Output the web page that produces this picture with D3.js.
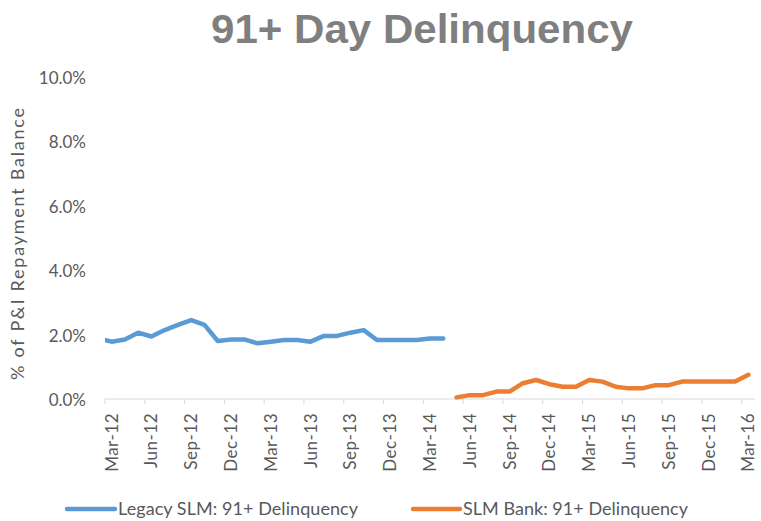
<!DOCTYPE html>
<html>
<head>
<meta charset="utf-8">
<script src="https://cdn.jsdelivr.net/npm/d3@7"></script>
<style>
  body { margin: 0; background: #fff; }
  text { font-family: Lato, "Open Sans", sans-serif; fill: #595959; }
</style>
</head>
<body>
<div id="chart"></div>
<script>
// chart data
const monthCount = 49;                     // Mar-12 .. Mar-16
const tickLabels = ["Mar-12", "Jun-12", "Sep-12", "Dec-12", "Mar-13", "Jun-13", "Sep-13", "Dec-13",
  "Mar-14", "Jun-14", "Sep-14", "Dec-14", "Mar-15", "Jun-15", "Sep-15", "Dec-15", "Mar-16"];
const yTicks = [0, 2, 4, 6, 8, 10];

// Legacy SLM, monthly from Feb-12 (first point sits left of the axis and is clipped)
const legacyStart = -1;
const legacyValues = [1.88, 1.78, 1.85, 2.06, 1.94, 2.14, 2.30, 2.45, 2.30, 1.80, 1.85, 1.85, 1.73,
  1.78, 1.83, 1.83, 1.78, 1.96, 1.96, 2.06, 2.14, 1.83, 1.83, 1.83, 1.83, 1.88, 1.88];
// SLM Bank, monthly from May-14
const bankStart = 26;
const bankValues = [0.05, 0.12, 0.12, 0.23, 0.23, 0.49, 0.59, 0.46, 0.38, 0.38, 0.59, 0.54, 0.38,
  0.33, 0.33, 0.43, 0.43, 0.54, 0.54, 0.54, 0.54, 0.54, 0.75];

const width = 761, height = 521;
const plot = { left: 105, right: 755, top: 77, bottom: 399 };

const svg = d3.select("#chart").append("svg")
  .attr("width", width)
  .attr("height", height);

const x = d3.scaleLinear().domain([0, monthCount]).range([plot.left, plot.right]);
const y = d3.scaleLinear().domain([0, 10]).range([plot.bottom, plot.top]);

// title
svg.append("text")
  .attr("x", 422)
  .attr("y", 43)
  .attr("text-anchor", "middle")
  .attr("textLength", 422)
  .attr("lengthAdjust", "spacingAndGlyphs")
  .style("font-family", "'Liberation Sans', Arial, sans-serif")
  .style("font-weight", "bold")
  .style("font-size", "40px")
  .style("fill", "#7f7f7f")
  .text("91+ Day Delinquency");

// y axis labels
svg.append("g").selectAll("text")
  .data(yTicks)
  .enter().append("text")
  .attr("x", 86)
  .attr("y", d => y(d) + 1)
  .attr("dy", "0.35em")
  .attr("text-anchor", "end")
  .style("font-size", "17px")
  .text(d => d.toFixed(1) + "%");

// y axis title
svg.append("text")
  .attr("transform", "translate(24,244) rotate(-90)")
  .attr("text-anchor", "middle")
  .attr("textLength", 272)
  .attr("lengthAdjust", "spacing")
  .style("font-size", "18px")
  .text("% of P&I Repayment Balance");

// x axis line and ticks
const xAxis = svg.append("g");
xAxis.append("line")
  .attr("x1", plot.left).attr("x2", plot.right)
  .attr("y1", plot.bottom).attr("y2", plot.bottom)
  .style("stroke", "#d9d9d9")
  .style("stroke-width", 1);

xAxis.selectAll(".tick")
  .data(tickLabels)
  .enter().append("line")
  .attr("x1", (d, i) => x(i * 3)).attr("x2", (d, i) => x(i * 3))
  .attr("y1", plot.bottom).attr("y2", plot.bottom + 5)
  .style("stroke", "#d9d9d9");

xAxis.selectAll(".lbl")
  .data(tickLabels)
  .enter().append("text")
  .attr("transform", (d, i) => `translate(${x(i * 3 + 0.5)},${plot.bottom + 14}) rotate(-90)`)
  .attr("dy", "0.35em")
  .attr("text-anchor", "end")
  .style("font-size", "17px")
  .style("letter-spacing", "0.5px")
  .text(d => d);

// clip lines to plot area
svg.append("clipPath").attr("id", "plot-clip")
  .append("rect")
  .attr("x", plot.left).attr("y", 0)
  .attr("width", plot.right - plot.left).attr("height", height);

const line = d3.line()
  .x(d => x(d.m + 0.5))
  .y(d => y(d.v));

const series = [
  { name: "Legacy SLM: 91+ Delinquency", color: "#5b9bd5",
    points: legacyValues.map((v, i) => ({ m: legacyStart + i, v })) },
  { name: "SLM Bank: 91+ Delinquency", color: "#ed7d31",
    points: bankValues.map((v, i) => ({ m: bankStart + i, v })) }
];

svg.append("g")
  .attr("clip-path", "url(#plot-clip)")
  .selectAll("path")
  .data(series)
  .enter().append("path")
  .attr("d", d => line(d.points))
  .style("fill", "none")
  .style("stroke", d => d.color)
  .style("stroke-width", 4.5)
  .style("stroke-linejoin", "round")
  .style("stroke-linecap", "round");

// legend
const legendPos = [{ x: 67, w: 48, tx: 118, tw: 240 }, { x: 413, w: 47, tx: 463, tw: 225 }];
const legend = svg.append("g").selectAll("g")
  .data(series)
  .enter().append("g");

legend.append("line")
  .attr("x1", (d, i) => legendPos[i].x)
  .attr("x2", (d, i) => legendPos[i].x + legendPos[i].w)
  .attr("y1", 509).attr("y2", 509)
  .style("stroke", d => d.color)
  .style("stroke-width", 4.5)
  .style("stroke-linecap", "round");

legend.append("text")
  .attr("x", (d, i) => legendPos[i].tx)
  .attr("y", 509)
  .attr("dy", "0.35em")
  .attr("textLength", (d, i) => legendPos[i].tw)
  .attr("lengthAdjust", "spacing")
  .style("font-size", "18px")
  .text(d => d.name);
</script>
</body>
</html>
